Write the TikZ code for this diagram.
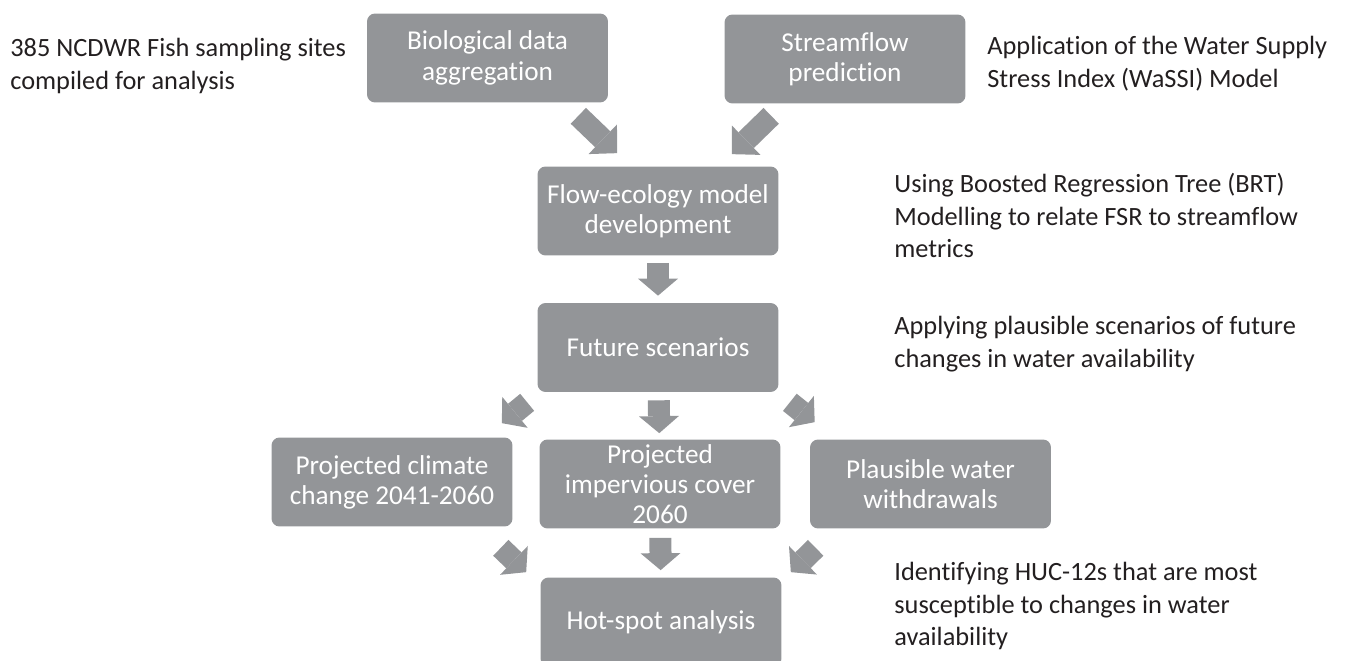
\documentclass[tikz,border=0pt]{standalone}
\usepackage{fontspec}
\setmainfont{Carlito}[Ligatures=NoCommon]
\usetikzlibrary{arrows.meta,calc,positioning}

\definecolor{boxgray}{RGB}{147,149,152}
\definecolor{notegray}{RGB}{35,31,32}

\tikzset{
  stage/.style={fill=boxgray, rounded corners=0.16cm, minimum width=4.82cm,
    minimum height=1.78cm, text=white, align=center, inner sep=2pt,
    font=\fontsize{15.5}{17.2}\selectfont},
  note/.style={anchor=north west, align=left, inner sep=0pt, text=notegray,
    font=\fontsize{15}{18.5}\selectfont},
  blockarrow/.style={boxgray, line width=0.44cm,
    -{Triangle[width=0.8cm,length=0.34cm,line width=0pt]}},
  bigarrow/.style={blockarrow,
    -{Triangle[width=0.82cm,length=0.4cm,line width=0pt]}}
}

\begin{document}
\begin{tikzpicture}[x=0.02cm,y=-0.02cm]
  \useasboundingbox (0,0) rectangle (1348,661);

  % stages of the workflow
  \node[stage] (bio) at (487.5,58) {Biological data\\aggregation};
  \node[stage] (stream) at (845,59) {Streamflow\\prediction};
  \node[stage] (flow) at (658,211) {Flow-ecology model\\development};
  \node[stage] (future) at (658,347.5) {Future scenarios};
  \node[stage] (climate) at (392,482) {Projected climate\\change 2041-2060};
  \node[stage] (imperv) at (660,484) {Projected\\impervious cover\\2060};
  \node[stage] (withdraw) at (930.5,484) {Plausible water\\withdrawals};
  \node[stage] (hotspot) at (661,622) {Hot-spot analysis};

  % notes beside the stages
  \node[note] (sites) at (10,38) {385 NCDWR Fish sampling sites\\compiled for analysis};
  \node[note] (wassi) at (987,36) {Application of the Water Supply\\Stress Index (WaSSI) Model};
  \node[note] (brt) at (894,173) {Using Boosted Regression Tree (BRT)\\Modelling to relate FSR to streamflow\\metrics};
  \node[note] (scen) at (894,316) {Applying plausible scenarios of future\\changes in water availability};
  \node[note] (huc) at (894,562) {Identifying HUC-12s that are most\\susceptible to changes in water\\availability};

  % ends of the slanted arrows
  \coordinate (bioA) at ($(bio.south east)+(-30,13)$);
  \coordinate (bioB) at ($(flow.north west)+(80,-13)$);
  \coordinate (streamA) at ($(stream.south west)+(47,12)$);
  \coordinate (streamB) at ($(flow.north east)+(-47,-12)$);
  \coordinate (leftA) at ($(future.south west)+(-10,10)$);
  \coordinate (leftB) at ($(climate.north east)+(-11,-14)$);
  \coordinate (rightA) at ($(future.south east)+(11,10)$);
  \coordinate (rightB) at ($(withdraw.north west)+(5,-17)$);
  \coordinate (climA) at ($(climate.south east)+(-12,21)$);
  \coordinate (climB) at ($(hotspot.north west)+(-14,-5)$);
  \coordinate (withA) at ($(withdraw.south west)+(6,19)$);
  \coordinate (withB) at ($(hotspot.north east)+(9,-5)$);

  \draw[bigarrow] (bioA) -- (bioB);
  \draw[bigarrow] (streamA) -- (streamB);
  \draw[blockarrow, shorten <=0.14cm, shorten >=0.14cm] (flow) -- (future);
  \draw[blockarrow, shorten <=0.16cm, shorten >=0.12cm] (future) -- (imperv);
  \draw[blockarrow, shorten <=0.18cm, shorten >=0.14cm] (imperv) -- (hotspot);
  \draw[blockarrow] (leftA) -- (leftB);
  \draw[blockarrow] (rightA) -- (rightB);
  \draw[blockarrow] (climA) -- (climB);
  \draw[blockarrow] (withA) -- (withB);
\end{tikzpicture}
\end{document}
